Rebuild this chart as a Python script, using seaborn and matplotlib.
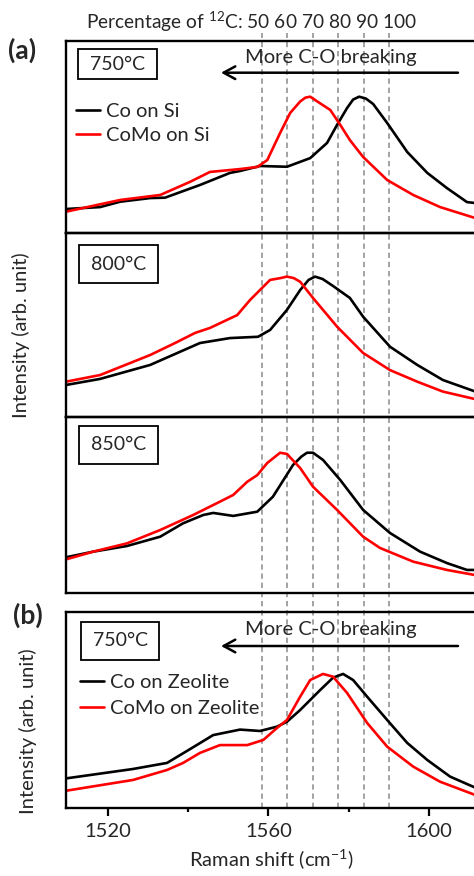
import matplotlib

matplotlib.use("Agg")
import matplotlib.pyplot as plt
import seaborn as sns
from matplotlib.patches import Rectangle

sns.set_theme(style="ticks")
plt.rcParams["font.family"] = ["Lato", "DejaVu Sans"]
plt.rcParams["mathtext.fontset"] = "custom"
plt.rcParams["mathtext.rm"] = "Lato"
plt.rcParams["mathtext.it"] = "Lato:italic"
plt.rcParams["mathtext.bf"] = "Lato:bold"

# ---- data (Raman shift in cm-1, intensity in arb. units) ----
co_si_750_shift = [1509.5, 1518.0, 1523.0, 1530.5, 1534.2, 1542.9, 1550.4, 1552.9, 1557.9, 1564.6, 1570.4,
                   1574.6, 1577.1, 1579.6, 1581.1, 1582.6, 1584.3, 1586.1, 1589.6, 1594.6, 1599.6, 1604.5,
                   1609.5, 1612.0]
co_si_750_int = [0.125, 0.135, 0.163, 0.182, 0.184, 0.25, 0.313, 0.323, 0.349, 0.345, 0.39,
                 0.469, 0.563, 0.651, 0.695, 0.71, 0.70, 0.672, 0.573, 0.422, 0.313, 0.234,
                 0.161, 0.155]
como_si_750_shift = [1509.5, 1523.0, 1533.0, 1540.4, 1545.4, 1552.9, 1557.2, 1559.7, 1562.9, 1565.4, 1567.9,
                     1569.2, 1570.4, 1572.9, 1575.4, 1577.9, 1580.3, 1583.6, 1589.6, 1596.1, 1602.8, 1612.0]
como_si_750_int = [0.111, 0.172, 0.198, 0.266, 0.318, 0.333, 0.344, 0.38, 0.521, 0.625, 0.685,
                   0.705, 0.71, 0.675, 0.641, 0.563, 0.484, 0.396, 0.276, 0.198, 0.135, 0.075]

co_si_800_shift = [1509.5, 1518.0, 1530.5, 1542.9, 1550.4, 1557.4, 1560.4, 1564.6, 1567.9, 1570.0,
                   1571.6, 1573.5, 1576.1, 1580.3, 1583.6, 1590.3, 1597.1, 1603.5, 1612.0]
co_si_800_int = [0.174, 0.207, 0.283, 0.402, 0.429, 0.436, 0.473, 0.582, 0.69, 0.745,
                 0.763, 0.75, 0.712, 0.647, 0.545, 0.382, 0.283, 0.201, 0.135]
como_si_800_shift = [1509.5, 1518.0, 1530.5, 1536.7, 1541.7, 1545.4, 1552.2, 1555.4, 1560.4, 1563.0, 1564.6,
                     1566.3, 1567.9, 1571.1, 1577.1, 1583.6, 1590.3, 1597.1, 1603.5, 1612.0]
como_si_800_int = [0.192, 0.228, 0.337, 0.402, 0.457, 0.484, 0.554, 0.636, 0.745, 0.755, 0.763,
                   0.755, 0.735, 0.647, 0.491, 0.348, 0.255, 0.192, 0.138, 0.095]

co_si_850_shift = [1509.5, 1516.3, 1524.7, 1533.0, 1538.7, 1543.7, 1546.2, 1551.2, 1557.2, 1561.1, 1566.1,
                   1568.2, 1569.6, 1571.1, 1573.6, 1577.9, 1583.6, 1590.3, 1597.8, 1604.5, 1609.5, 1612.0]
co_si_850_int = [0.203, 0.235, 0.267, 0.32, 0.396, 0.443, 0.455, 0.438, 0.462, 0.547, 0.727,
                 0.775, 0.797, 0.797, 0.756, 0.642, 0.472, 0.341, 0.235, 0.17, 0.131, 0.131]
como_si_850_shift = [1509.5, 1516.3, 1524.7, 1533.0, 1541.2, 1547.9, 1551.2, 1554.7, 1557.2, 1559.7, 1562.9,
                     1564.6, 1567.9, 1571.1, 1577.1, 1583.6, 1587.8, 1596.1, 1604.5, 1612.0]
como_si_850_int = [0.191, 0.235, 0.282, 0.358, 0.443, 0.519, 0.557, 0.632, 0.67, 0.739, 0.797,
                   0.79, 0.71, 0.604, 0.472, 0.32, 0.256, 0.178, 0.131, 0.1]

co_zeo_750_shift = [1509.5, 1526.2, 1534.7, 1540.4, 1546.2, 1552.9, 1557.9, 1562.1, 1564.6, 1567.9,
                    1572.9, 1576.1, 1578.6, 1581.1, 1584.6, 1589.6, 1594.6, 1599.6, 1605.3, 1612.0]
co_zeo_750_int = [0.151, 0.199, 0.23, 0.30, 0.372, 0.40, 0.393, 0.415, 0.44, 0.5,
                  0.602, 0.665, 0.684, 0.653, 0.568, 0.449, 0.332, 0.245, 0.16, 0.1]
como_zeo_750_shift = [1509.5, 1526.2, 1534.7, 1538.7, 1542.9, 1547.9, 1554.7, 1558.7, 1562.1, 1564.6,
                      1567.9, 1570.4, 1573.6, 1576.1, 1579.6, 1584.6, 1589.6, 1596.1, 1602.8, 1612.0]
como_zeo_750_int = [0.088, 0.143, 0.194, 0.23, 0.281, 0.321, 0.321, 0.347, 0.408, 0.449,
                    0.568, 0.653, 0.684, 0.67, 0.587, 0.434, 0.313, 0.211, 0.134, 0.063]

guide_shift = [1558.3, 1564.7, 1571.0, 1577.3, 1583.8, 1590.1]
guide_labels = ["50", "60", "70", "80", "90", "100"]
x_major = [1520, 1560, 1600]
x_minor = [1540, 1580]

# ---- layout (figure pixels) ----
W, H = 474, 876
X0, X1 = 66, 477
XLIM = (1509.5, 1612.0)
CO_COLOR, COMO_COLOR = "black", "#ff0000"
FS = 14.5


def rect(top, bottom):
    return [X0 / W, 1 - bottom / H, (X1 - X0) / W, (bottom - top) / H]


def fx(px):
    return px / W


def fy(py):
    return 1 - py / H


fig = plt.figure(figsize=(W / 100, H / 100), dpi=100)

# dashed guide lines spanning both panels
guide = fig.add_axes(rect(33, 808), facecolor="none")
guide.set_xlim(XLIM)
guide.set_yticks([])
guide.set_xticks([])
for s in guide.spines.values():
    s.set_visible(False)
for pos in guide_shift:
    guide.axvline(pos, color="#8a8a8a", lw=1.1, ls=(0, (3.5, 2.5)))
fig.text(fx(86), fy(22), "Percentage of $^{12}$C: " + " ".join(guide_labels),
         ha="left", va="center", fontsize=13.8)

panels = [
    dict(top=41, bottom=233, temp="750°C", box=(78, 49, 157, 79),
         co=(co_si_750_shift, co_si_750_int), como=(como_si_750_shift, como_si_750_int),
         labels=("Co on Si", "CoMo on Si"), leg=(76, 123.5), spacing=0.3, arrow=(58, 72.7)),
    dict(top=233, bottom=417, temp="800°C", box=(79, 245, 158, 283),
         co=(co_si_800_shift, co_si_800_int), como=(como_si_800_shift, como_si_800_int)),
    dict(top=417, bottom=593, temp="850°C", box=(79, 426, 158, 464),
         co=(co_si_850_shift, co_si_850_int), como=(como_si_850_shift, como_si_850_int)),
    dict(top=612, bottom=808, temp="750°C", box=(81, 622, 159, 660),
         co=(co_zeo_750_shift, co_zeo_750_int), como=(como_zeo_750_shift, como_zeo_750_int),
         labels=("Co on Zeolite", "CoMo on Zeolite"), leg=(80, 695.5), spacing=0.4, arrow=(630, 646)),
]

axes = []
for p in panels:
    ax = fig.add_axes(rect(p["top"], p["bottom"]), facecolor="none")
    labels = p.get("labels", (None, None))
    sns.lineplot(x=p["co"][0], y=p["co"][1], color=CO_COLOR, lw=1.9, sort=False,
                 estimator=None, label=labels[0], ax=ax)
    sns.lineplot(x=p["como"][0], y=p["como"][1], color=COMO_COLOR, lw=1.9, sort=False,
                 estimator=None, label=labels[1], ax=ax)
    ax.set_xlim(XLIM)
    ax.set_ylim(0, 1)
    ax.set_yticks([])
    ax.set_xticks([])
    for s in ax.spines.values():
        s.set_linewidth(1.7)
        s.set_color("black")
    if "labels" in p:
        ax.legend(loc="center left", bbox_to_anchor=(fx(p["leg"][0]), fy(p["leg"][1])),
                  bbox_transform=fig.transFigure, frameon=False, fontsize=FS,
                  borderpad=0, borderaxespad=0, handlelength=1.2, handletextpad=0.3,
                  labelspacing=p["spacing"])
        ty, ay = p["arrow"]
        fig.text(fx(331), fy(ty), "More C-O breaking", ha="center", va="center", fontsize=FS)
        ax.annotate("", xy=(fx(221), fy(ay)), xytext=(fx(458), fy(ay)),
                    xycoords="figure fraction", textcoords="figure fraction",
                    arrowprops=dict(arrowstyle="->,head_length=0.7,head_width=0.38",
                                    lw=1.8, color="black", shrinkA=0, shrinkB=0))
    elif ax.get_legend() is not None:
        ax.get_legend().remove()
    bx0, by0, bx1, by1 = p["box"]
    fig.add_artist(Rectangle((fx(bx0), fy(by1)), (bx1 - bx0) / W, (by1 - by0) / H,
                             transform=fig.transFigure, fill=False, ec="black", lw=1.3))
    fig.text(fx((bx0 + bx1) / 2), fy((by0 + by1) / 2), p["temp"], ha="center", va="center",
             fontsize=14)
    axes.append(ax)

bottom_ax = axes[-1]
bottom_ax.set_xticks(x_major)
bottom_ax.set_xticks(x_minor, minor=True)
bottom_ax.tick_params(axis="x", which="major", direction="out", length=6, width=1.6,
                      labelsize=FS, pad=5, color="black")
bottom_ax.tick_params(axis="x", which="minor", direction="out", length=3, width=1.6, color="black")
bottom_ax.set_xlabel("Raman shift (cm$^{\\mathregular{-1}}$)", fontsize=FS, labelpad=5)

fig.text(fx(8), fy(50), "(a)", ha="left", va="center", fontsize=19, fontweight="bold")
fig.text(fx(13), fy(615), "(b)", ha="left", va="center", fontsize=19, fontweight="bold")
fig.text(fx(21), fy(335), "Intensity (arb. unit)", rotation=90, ha="center", va="center", fontsize=FS)
fig.text(fx(28), fy(731), "Intensity (arb. unit)", rotation=90, ha="center", va="center", fontsize=FS)

fig.savefig("out.png", dpi=100)
